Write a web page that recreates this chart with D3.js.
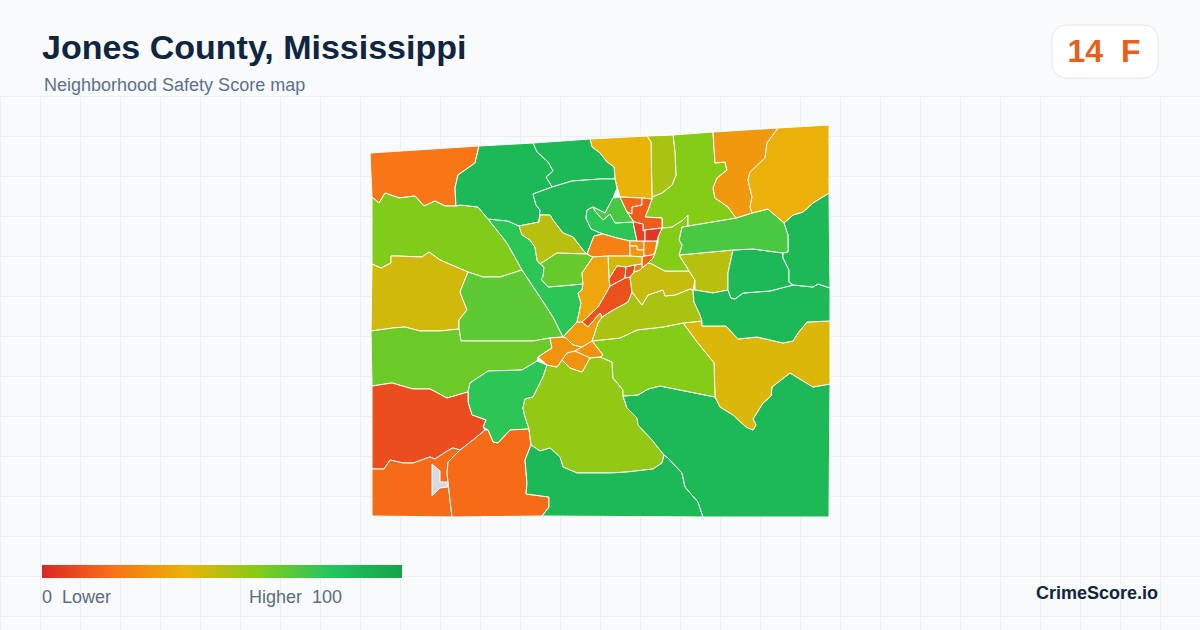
<!DOCTYPE html>
<html>
<head>
<meta charset="utf-8">
<script src="https://cdn.jsdelivr.net/npm/d3@7"></script>
<style>
  body { margin: 0; background: #f8fafc; }
  text { font-family: "Liberation Sans", Arial, sans-serif; white-space: pre; }
</style>
</head>
<body>
<div class="map"></div>
<script>
let width = 1200
let height = 630

// labels
let titleText = 'Jones County, Mississippi'
let subtitleText = 'Neighborhood Safety Score map'
let gradeText = '14  F'
let lowLabel = '0  Lower'
let highLabel = 'Higher  100'
let brandText = 'CrimeScore.io'

// colour ramp of the legend
let rampStops = [0, 20, 40, 60, 80, 100]
let rampColors = ['#dc2626', '#f97316', '#eab308', '#84cc16', '#22c55e', '#16a34a']

// score of each tract, same order as tractRings. null = no data
let tractScores = [
    21, 61, 45, 68, 78, 65, 78, 10, 18, 18,
    57, 87, 87, 43, 60, 53, 11, 33, 30, 30,
    30, 47, 50, 87, 87, 87, 72, 60, 60, 32,
    39, 53, 40, 87, 87, 87, 50, 66, 78, 72,
    24, 30, 31, 24, 15, 45, 36, 10, 9, 22,
    16, 14, 7, 4, null
]

// tract outlines, in map units from the county's north west corner
let tractRings = [
    [[0,28],[109,21],[105,38],[88,50],[85,63],[86,81],[75,81],[65,76],[54,81],[45,71],[29,73],[15,68],[9,78],[2,72]],
    [[2,72],[9,78],[15,68],[29,73],[45,71],[54,81],[65,76],[75,81],[86,81],[90,80],[108,82],[118,94],[137,118],[152,145],[130,152],[113,152],[98,147],[70,135],[59,127],[52,132],[27,131],[21,131],[21,138],[11,143],[2,139]],
    [[2,139],[11,143],[21,138],[21,131],[27,131],[52,132],[59,127],[70,135],[98,147],[90,167],[97,185],[89,195],[89,204],[70,206],[50,206],[35,202],[23,203],[1,206]],
    [[98,147],[113,152],[130,152],[152,145],[172,175],[183,192],[193,212],[180,213],[163,216],[91,216],[89,204],[89,195],[97,185],[90,167]],
    [[118,94],[138,96],[149,101],[152,110],[160,115],[165,122],[167,135],[170,139],[174,142],[173,152],[171,154],[178,162],[213,159],[212,165],[208,168],[211,178],[209,188],[207,197],[193,212],[183,192],[172,175],[152,145],[137,118]],
    [[1,206],[23,203],[35,202],[50,206],[70,206],[89,204],[91,216],[163,216],[180,213],[182,223],[168,232],[167,236],[152,245],[118,246],[100,258],[98,267],[77,273],[60,264],[43,264],[22,258],[2,261]],
    [[100,258],[118,246],[152,245],[167,236],[177,240],[173,252],[163,272],[155,274],[153,283],[155,292],[159,304],[140,305],[128,318],[123,317],[118,305],[113,302],[116,295],[102,290],[98,277],[98,267]],
    [[2,261],[22,258],[43,264],[60,264],[77,273],[98,267],[98,277],[102,290],[116,295],[113,302],[115,305],[103,315],[90,325],[83,323],[77,326],[65,334],[60,332],[43,338],[33,338],[20,335],[14,344],[2,344]],
    [[2,344],[14,344],[20,335],[33,338],[43,338],[60,332],[65,334],[77,326],[83,323],[90,325],[78,337],[77,348],[80,375],[82,392],[2,391]],
    [[90,325],[103,315],[115,305],[118,305],[123,317],[128,318],[140,305],[159,304],[161,320],[155,335],[157,358],[156,369],[179,372],[179,382],[172,391],[82,392],[80,375],[77,348],[78,337]],
    [[177,240],[187,242],[192,235],[200,243],[212,247],[220,233],[230,232],[242,237],[243,253],[253,265],[253,271],[257,283],[267,293],[268,300],[282,315],[294,330],[292,338],[283,344],[257,347],[240,348],[207,348],[193,342],[190,332],[180,323],[170,326],[161,320],[159,304],[155,292],[153,283],[155,274],[163,272],[173,252]],
    [[161,320],[170,326],[180,323],[190,332],[193,342],[207,348],[240,348],[257,347],[283,344],[292,338],[294,330],[298,333],[312,348],[315,362],[328,377],[333,392],[172,391],[179,382],[179,372],[156,369],[157,358],[155,335]],
    [[253,271],[268,270],[278,264],[290,261],[310,265],[345,272],[350,282],[363,290],[376,302],[383,305],[386,300],[383,294],[393,278],[401,271],[402,262],[420,248],[443,262],[460,259],[459,392],[333,392],[328,377],[315,362],[312,348],[298,333],[294,330],[282,315],[268,300],[267,293],[257,283]],
    [[313,198],[332,196],[332,201],[356,201],[368,214],[387,212],[413,218],[423,216],[428,208],[437,197],[460,196],[460,259],[443,262],[420,248],[402,262],[401,271],[393,278],[383,294],[386,300],[383,305],[376,302],[363,290],[350,282],[345,272],[344,238],[327,217]],
    [[222,216],[250,213],[267,205],[293,202],[313,198],[327,217],[344,238],[345,272],[310,265],[290,261],[278,264],[268,270],[253,271],[253,265],[243,253],[242,237],[230,232],[233,230]],
    [[232,192],[243,185],[258,177],[262,167],[272,180],[278,170],[293,165],[295,171],[305,170],[320,164],[323,165],[324,177],[330,190],[332,196],[313,198],[293,202],[267,205],[250,213],[222,216],[228,198]],
    [[240,161],[255,153],[260,152],[262,167],[258,177],[243,185],[232,192],[230,188],[218,202],[212,197],[228,182]],
    [[193,212],[207,197],[212,197],[218,202],[230,188],[232,192],[228,198],[222,216],[212,222],[203,220],[196,213]],
    [[180,213],[193,212],[196,213],[203,220],[212,222],[205,226],[197,228],[192,235],[187,242],[177,240],[168,232],[182,223]],
    [[212,222],[222,216],[233,230],[230,232],[220,233],[205,226]],
    [[197,228],[205,226],[220,233],[212,247],[200,243],[192,235]],
    [[260,152],[264,147],[270,145],[272,143],[278,138],[280,138],[295,146],[319,146],[325,155],[323,165],[320,164],[305,170],[295,171],[293,165],[278,170],[272,180],[262,167]],
    [[309,130],[363,125],[358,148],[358,165],[343,168],[325,165],[325,155],[319,146]],
    [[323,165],[325,165],[343,168],[358,165],[361,173],[365,174],[373,168],[400,166],[423,160],[443,162],[448,159],[460,163],[460,196],[437,197],[428,208],[423,216],[413,218],[387,212],[368,214],[356,201],[332,201],[332,196],[330,190],[324,177]],
    [[363,125],[383,124],[413,128],[413,133],[419,145],[419,157],[423,160],[400,166],[373,168],[365,174],[361,173],[358,165],[358,148]],
    [[414,98],[423,90],[433,87],[443,78],[459,68],[460,163],[448,159],[443,162],[423,160],[419,157],[419,145],[413,133],[413,128],[418,127],[418,110]],
    [[318,101],[366,93],[382,88],[398,84],[414,98],[418,110],[418,127],[413,128],[383,124],[363,125],[309,130],[312,120],[309,115],[312,102]],
    [[292,103],[302,102],[313,95],[318,90],[318,101],[312,102],[309,115],[312,120],[309,130],[319,146],[295,146],[280,138],[278,138],[283,133],[285,128],[288,118],[288,112]],
    [[282,74],[282,72],[292,68],[302,60],[306,50],[305,28],[303,10],[343,7],[345,38],[355,37],[357,45],[347,53],[343,63],[345,73],[358,82],[366,93],[318,101],[318,90],[313,95],[302,102],[292,103],[292,93],[275,92],[278,85]],
    [[343,7],[408,3],[397,18],[395,33],[380,47],[378,55],[382,72],[380,82],[382,88],[366,93],[358,82],[345,73],[343,63],[347,53],[357,45],[355,37],[345,38]],
    [[408,3],[459,0],[459,68],[443,78],[433,87],[423,90],[414,98],[398,84],[382,88],[380,82],[382,72],[378,55],[380,47],[395,33],[397,18]],
    [[277,11],[303,10],[305,28],[306,50],[302,60],[292,68],[282,72],[281,17]],
    [[220,14],[277,11],[281,17],[282,72],[282,74],[272,73],[250,72],[245,54],[244,42],[237,37],[230,28],[222,22]],
    [[163,18],[220,14],[222,22],[230,28],[237,37],[244,42],[245,54],[230,54],[202,56],[182,62],[176,52],[183,46],[178,37],[167,27]],
    [[109,21],[163,18],[167,27],[178,37],[183,46],[176,52],[182,62],[163,69],[166,80],[170,85],[169,97],[149,101],[138,96],[118,94],[108,82],[90,80],[86,81],[85,63],[88,50],[105,38]],
    [[163,69],[182,62],[202,56],[230,54],[245,54],[247,63],[243,73],[235,88],[223,82],[217,85],[216,93],[221,104],[233,109],[224,111],[217,129],[213,125],[203,112],[193,108],[183,95],[180,90],[170,90],[169,97],[170,85],[166,80]],
    [[149,101],[169,97],[170,90],[180,90],[183,95],[193,108],[203,112],[213,125],[217,129],[187,128],[170,139],[167,135],[165,122],[160,115],[152,110]],
    [[170,139],[187,128],[217,129],[223,132],[212,148],[213,159],[178,162],[171,154],[173,152],[174,142]],
    [[217,85],[223,82],[225,86],[233,95],[240,89],[245,98],[263,97],[267,116],[260,116],[247,113],[233,109],[221,104],[216,93]],
    [[223,82],[235,88],[243,73],[250,72],[257,87],[264,97],[263,97],[245,98],[240,89],[233,95],[225,86]],
    [[217,129],[224,111],[233,109],[247,113],[260,116],[260,131],[238,131],[223,132]],
    [[260,116],[267,116],[274,116],[274,125],[267,125],[267,121],[260,121]],
    [[260,121],[267,121],[267,125],[274,125],[274,130],[272,132],[260,131]],
    [[274,116],[287,116],[285,127],[282,130],[275,131],[274,130],[274,125]],
    [[272,139],[272,132],[275,131],[282,130],[285,128],[283,133],[278,138],[272,143]],
    [[238,131],[260,131],[272,132],[272,139],[265,140],[256,142],[247,141],[239,154]],
    [[223,132],[238,131],[239,154],[240,161],[228,182],[212,197],[207,197],[209,188],[211,178],[208,168],[212,165],[213,159],[212,148]],
    [[239,154],[247,141],[256,142],[255,153],[240,161]],
    [[256,142],[265,140],[264,147],[260,152],[255,153]],
    [[265,140],[272,139],[272,143],[270,145],[264,147]],
    [[250,72],[272,73],[272,80],[262,82],[262,89],[257,87]],
    [[272,73],[282,74],[278,85],[275,92],[292,93],[292,103],[275,105],[273,106],[273,99],[264,97],[257,87],[262,89],[262,82],[272,80]],
    [[264,97],[273,99],[273,106],[275,105],[275,116],[267,116],[263,97]],
    [[275,105],[292,103],[288,112],[287,116],[275,116]],
    [[62,339],[70,346],[70,357],[78,357],[78,362],[70,363],[62,371]]
]

let colorScale = d3.scaleLinear().domain(rampStops).range(rampColors)

let svg = d3.select('div.map')
    .append('svg')
    .attr('width', width)
    .attr('height', height)
    .style('display', 'block')

// background grid, starts below the header
let gridX = d3.range(0, width, 40)
let gridY = d3.range(96.5, height, 40)
svg.append('g')
    .selectAll('line')
    .data(gridX)
    .enter()
    .append('line')
    .attr('x1', d => d + 0.5)
    .attr('x2', d => d + 0.5)
    .attr('y1', 96)
    .attr('y2', height)
    .style('stroke', '#e8eff5')
svg.append('g')
    .selectAll('line')
    .data(gridY)
    .enter()
    .append('line')
    .attr('x1', 0)
    .attr('x2', width)
    .attr('y1', d => d)
    .attr('y2', d => d)
    .style('stroke', '#e8eff5')

// the map. geojson rings have to end on their first point
let tracts = {
    type: 'FeatureCollection',
    features: tractRings.map((ring, i) => ({
        type: 'Feature',
        properties: { score: tractScores[i] },
        geometry: { type: 'Polygon', coordinates: [ring.concat([ring[0]])] }
    }))
}
let myProjection = d3.geoIdentity().fitExtent([[370, 125], [830, 517]], tracts)
let pathGenerator = d3.geoPath().projection(myProjection)

svg.append('g')
    .selectAll('path')
    .data(tracts.features)
    .enter()
    .append('path')
    .attr('d', pathGenerator)
    .style('fill', d => d.properties.score === null ? '#d3dae4' : colorScale(d.properties.score))
    .style('stroke', '#ffffff')
    .style('stroke-width', 1)
    .style('stroke-linejoin', 'round')

// header
svg.append('text')
    .attr('x', 42)
    .attr('y', 59)
    .text(titleText)
    .style('font-size', '34px')
    .style('font-weight', 'bold')
    .style('fill', '#0f2540')
svg.append('text')
    .attr('x', 44)
    .attr('y', 91)
    .text(subtitleText)
    .style('font-size', '18px')
    .style('fill', '#5a7191')

// grade badge
svg.append('rect')
    .attr('x', 1052)
    .attr('y', 25)
    .attr('width', 106)
    .attr('height', 53)
    .attr('rx', 14)
    .style('fill', '#ffffff')
    .style('stroke', '#e2e8f0')
svg.append('text')
    .attr('x', 1104)
    .attr('y', 62)
    .attr('text-anchor', 'middle')
    .text(gradeText)
    .style('font-size', '32px')
    .style('font-weight', 'bold')
    .style('fill', '#e95f1a')

// legend
let legendScale = d3.scaleLinear().domain([0, 100]).range([42, 402])
let gradient = svg.append('defs')
    .append('linearGradient')
    .attr('id', 'ramp')
gradient.selectAll('stop')
    .data(rampStops)
    .enter()
    .append('stop')
    .attr('offset', d => d + '%')
    .attr('stop-color', d => colorScale(d))
svg.append('rect')
    .attr('x', legendScale(0))
    .attr('y', 565)
    .attr('width', legendScale(100) - legendScale(0))
    .attr('height', 13)
    .style('fill', 'url(#ramp)')
svg.append('text')
    .attr('x', 42)
    .attr('y', 603)
    .text(lowLabel)
    .style('font-size', '18px')
    .style('fill', '#5b6b82')
svg.append('text')
    .attr('x', 249)
    .attr('y', 603)
    .text(highLabel)
    .style('font-size', '18px')
    .style('fill', '#5b6b82')

svg.append('text')
    .attr('x', 1158)
    .attr('y', 599)
    .attr('text-anchor', 'end')
    .text(brandText)
    .style('font-size', '18px')
    .style('font-weight', 'bold')
    .style('fill', '#0f2540')
</script>
</body>
</html>
